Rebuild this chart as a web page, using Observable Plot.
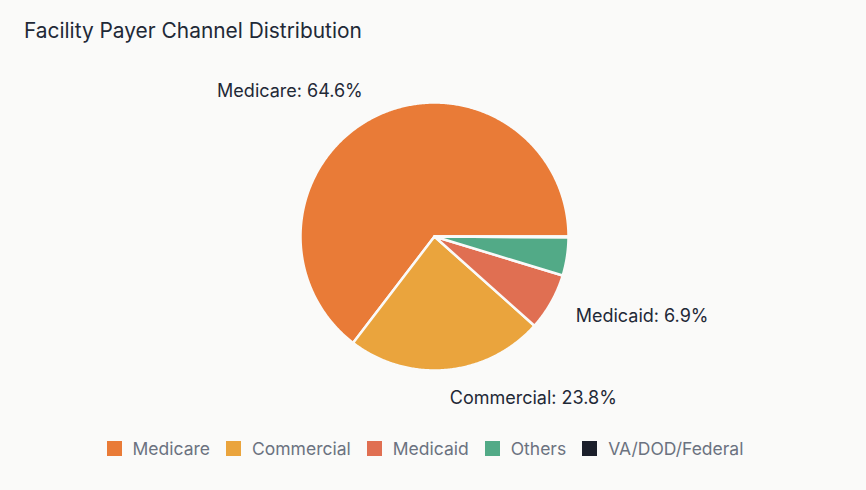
<!DOCTYPE html>
<html>
<head>
<meta charset="utf-8">
<script src="https://cdn.jsdelivr.net/npm/d3@7"></script>
<script src="https://cdn.jsdelivr.net/npm/@observablehq/plot@0.6"></script>
<style>
  html, body { margin: 0; padding: 0; background: #fafaf9; }
  body { width: 866px; height: 490px; position: relative; overflow: hidden; font-family: Inter, "Noto Sans", sans-serif; }
  #title { position: absolute; left: 24px; top: 18px; font-size: 20.9px; font-weight: 400; color: #1f2937; }
  #chart { position: absolute; left: 0; top: 60px; }
  #legend { position: absolute; left: 0; top: 438px; width: 866px; display: flex; justify-content: center; }
  .lg-swatches { margin: 0 !important; min-height: 0 !important; }
  .lg-swatch { margin-right: 16px !important; font-size: 17.5px; color: #6b7280; }
  .lg-swatch > svg { margin-right: 11px !important; }
</style>
</head>
<body>
<div id="title">Facility Payer Channel Distribution</div>
<div id="chart"></div>
<div id="legend"></div>
<script>
const categories = ["Medicare", "Commercial", "Medicaid", "Others", "VA/DOD/Federal"];
const values = [64.6, 23.8, 6.9, 4.6, 0.1];
const colors = ["#e97b37", "#eaa43d", "#e06f52", "#52aa87", "#1b1f2b"];

const W = 866, H = 360, cx = 434, cy = 176, R = 134;

// angles: start at east, go counter-clockwise
const pie = d3.pie().sort(null).value(d => d.value).startAngle(0).endAngle(2 * Math.PI);
const arcs = pie(categories.map((name, i) => ({name, value: values[i]})));
const total = d3.sum(values);

const poly = [];
for (const a of arcs) {
  const name = a.data.name;
  poly.push({name, x: 0, y: 0});
  const n = Math.max(2, Math.ceil((a.endAngle - a.startAngle) / (Math.PI / 360)));
  for (let k = 0; k <= n; k++) {
    const t = a.startAngle + (a.endAngle - a.startAngle) * k / n;
    poly.push({name, x: Math.cos(t), y: Math.sin(t)});
  }
}

const labelR = 162 / R;
const labels = arcs.filter(a => a.data.value / total >= 0.05).map(a => {
  const m = (a.startAngle + a.endAngle) / 2;
  const x = Math.cos(m) * labelR, y = Math.sin(m) * labelR;
  return {x, y, anchor: x < 0 ? "end" : "start", text: `${a.data.name}: ${a.data.value.toFixed(1)}%`};
});

const chart = Plot.plot({
  width: W, height: H,
  margin: 0,
  style: {background: "transparent", fontFamily: "Inter, 'Noto Sans', sans-serif", overflow: "visible"},
  x: {domain: [-cx / R, (W - cx) / R], range: [0, W], axis: null},
  y: {domain: [-(H - cy) / R, cy / R], range: [H, 0], axis: null},
  color: {domain: categories, range: colors},
  marks: [
    Plot.line(poly, {x: "x", y: "y", z: "name", fill: "name", stroke: "#fafaf9", strokeWidth: 2.5, strokeLinejoin: "round", curve: "linear-closed"}),
    Plot.text(labels.filter(d => d.anchor === "end"), {x: "x", y: "y", text: "text", textAnchor: "end", fontSize: 18, fill: "#1f2937"}),
    Plot.text(labels.filter(d => d.anchor === "start"), {x: "x", y: "y", text: "text", textAnchor: "start", fontSize: 18, fill: "#1f2937"})
  ]
});
document.getElementById("chart").appendChild(chart);

const legend = Plot.legend({
  color: {type: "ordinal", domain: categories, range: colors},
  swatchSize: 15,
  className: "lg",
  style: {fontFamily: "Inter, 'Noto Sans', sans-serif", fontSize: "17.5px", color: "#6b7280"}
});
document.getElementById("legend").appendChild(legend);
</script>
</body>
</html>
